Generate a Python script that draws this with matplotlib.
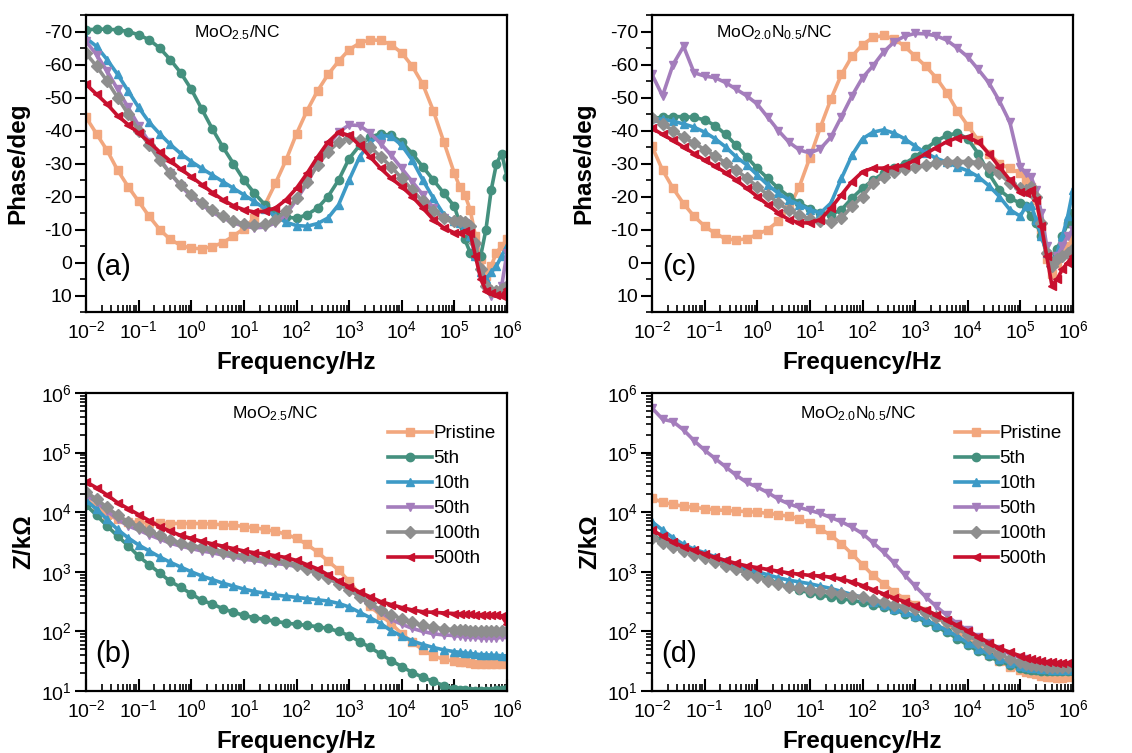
import numpy as np
import matplotlib
matplotlib.use("Agg")
import matplotlib.pyplot as plt
from matplotlib.ticker import LogLocator, MultipleLocator, NullFormatter

plt.rcParams['font.family'] = ['Liberation Sans', 'DejaVu Sans']
plt.rcParams['mathtext.fontset'] = 'custom'
plt.rcParams['mathtext.rm'] = 'Liberation Sans'
plt.rcParams['mathtext.it'] = 'Liberation Sans:italic'
plt.rcParams['mathtext.bf'] = 'Liberation Sans:bold'
plt.rcParams['axes.unicode_minus'] = False

# log10 of frequency (Hz) at which values were read
log_f = [-2.0, -1.8, -1.6, -1.4, -1.2, -1.0, -0.8, -0.6, -0.4, -0.2,
         0.0, 0.2, 0.4, 0.6, 0.8, 1.0, 1.2, 1.4, 1.6, 1.8,
         2.0, 2.2, 2.4, 2.6, 2.8, 3.0, 3.2, 3.4, 3.6, 3.8,
         4.0, 4.2, 4.4, 4.6, 4.8, 5.0, 5.1, 5.2, 5.3, 5.4,
         5.5, 5.6, 5.7, 5.8, 5.9, 6.0]

labels = ['Pristine', '5th', '10th', '50th', '100th', '500th']
colors = ['#F2A77E', '#44907E', '#3D9AC6', '#A47DBC', '#8E8E8E', '#C8102E']
markers = ['s', 'o', '^', 'v', 'D', '<']

# ---- (a) phase, MoO2.5/NC ----
phase_a_pristine = [-44, -39, -34, -28, -23, -18.5, -14, -10, -7, -5.2,
                    -4.3, -4.2, -4.8, -6, -8, -10.3, -13.5, -17.5, -24, -31,
                    -39, -46, -52, -57, -61, -64.5, -66.5, -67.5, -67.3, -66,
                    -63.5, -59.5, -54, -46, -36.5, -27, -23, -20.5, -16, -8,
                    -1, 4, 1, -3, -5, -7]
phase_a_5th = [-70.5, -70.7, -70.7, -70.5, -70, -69, -67.5, -65, -61.5, -57.5,
               -52.5, -46.5, -40.5, -35, -30, -25, -21, -17.5, -15, -13.8,
               -13.4, -14.5, -16.5, -20, -25, -31.5, -35.5, -38, -39, -38.5,
               -36.5, -33, -29, -25, -21, -17, -12, -7, -3, -2,
               -2, -10, -22, -30, -33, -26]
phase_a_10th = [-68, -65.5, -61.5, -57, -52, -47, -42.5, -39, -35.8, -33,
                -30.6, -28.5, -26.5, -24.5, -22.5, -20.5, -18.5, -16.3, -14, -12.2,
                -11.2, -11, -11.8, -13.5, -17.5, -25, -32, -36.5, -38.5, -38.2,
                -35.5, -31, -25, -19.5, -14.5, -12.5, -12, -11.5, -8, -2,
                3, 5, 3, 1, -2, -5]
phase_a_50th = [-67, -63, -58, -52.5, -47, -41.5, -36.5, -31.5, -27, -23.2,
                -20, -17.5, -15.2, -13.5, -12, -11, -10.5, -10.7, -12, -14.5,
                -19, -24, -30, -35.5, -39.5, -41.7, -41.5, -39.2, -36, -32.5,
                -28.5, -24.5, -20.5, -16.5, -13.5, -12.3, -12.2, -12, -10, -4,
                3, 8, 10, 9, 7, -3]
phase_a_100th = [-63.4, -59.5, -55, -50, -45, -40, -35.5, -31, -27, -23.5,
                 -20.5, -18, -15.8, -14, -12.6, -11.7, -11.4, -11.6, -13, -15.5,
                 -19.5, -24.5, -29.5, -33.5, -36.5, -37.7, -37, -35, -32, -29,
                 -25.5, -22, -18.5, -15.5, -13.5, -12.5, -12.5, -12.4, -11, -6,
                 2, 7, 8.5, 8.5, 8, 7]
phase_a_500th = [-54, -51, -48, -44.5, -41.8, -39.2, -36.5, -33.5, -30.8, -28.3,
                 -26, -23.6, -21.2, -19, -17.2, -16, -15.3, -15.5, -16.5, -19,
                 -22.5, -27, -32, -36.5, -39.5, -38.5, -35.5, -32, -28.5, -25.5,
                 -23, -20, -16.5, -13, -10.5, -9, -9, -9.5, -9, -2,
                 5, 8.5, 9.3, 9.8, 10, 8]

# ---- (c) phase, MoO2.0N0.5/NC ----
phase_c_pristine = [-35.2, -28, -22.5, -17.8, -14, -11, -8.8, -7.2, -6.8, -7.2,
                    -8.5, -10, -12.5, -16.5, -23, -31.8, -41, -49.5, -57, -62.5,
                    -66, -68.2, -68.8, -67.8, -65.5, -62.5, -59.5, -56, -51.5, -46,
                    -41.5, -37, -33, -30, -28.5, -27, -25, -23, -19, -10,
                    -1, 3.5, 0, -3, -5, -7]
phase_c_5th = [-43.7, -44, -44.2, -44.2, -44, -43.2, -41.5, -38.8, -35.5, -32,
               -28.5, -25.5, -22.5, -20, -18, -16.3, -15, -14.5, -16, -19.5,
               -22.5, -25, -27, -28.5, -30, -32, -34.5, -36.8, -38.5, -39.2,
               -37.5, -33, -27, -22, -19.5, -18, -17, -14, -12, -8,
               -3, 0, -4, -8, -12, -15]
phase_c_10th = [-43.7, -43.4, -42.8, -42, -41, -39.5, -37.5, -35, -32, -29.6,
                -26.5, -23.5, -21, -19, -17.5, -16, -15, -18, -25.5, -32.5,
                -37.5, -39.5, -40.2, -39.2, -37.5, -35.3, -33.2, -31.6, -30.4, -29,
                -27.8, -26, -23.3, -20, -16, -14, -17, -17.5, -13, -8,
                -3, 0, -3, -8, -14, -22]
phase_c_50th = [-57, -50.5, -60, -65.5, -57.5, -56.5, -56, -54.5, -52.5, -50.5,
                -48, -44, -40, -36.5, -34.1, -33.2, -34.5, -38, -44.2, -50.5,
                -56, -59.6, -63.8, -66.8, -68.6, -69.4, -69.3, -68.7, -67.4, -65,
                -62.3, -58.5, -54.5, -49, -42.5, -29, -27, -26, -22, -15,
                -5, 1, -2, -5, -8, -10]
phase_c_100th = [-43.7, -42, -40, -38, -36.2, -34.2, -32.3, -30.2, -28, -25.6,
                 -23, -20.5, -18, -15.8, -14.4, -13.2, -12.6, -12.4, -13.5, -17,
                 -20, -24, -26, -27.5, -28.4, -29, -29.6, -30.2, -30.6, -30.6,
                 -30.6, -30.3, -29, -27, -24, -22.5, -22, -23, -20, -12,
                 -3, 1, -1, -2, -3, -4]
phase_c_500th = [-40.7, -38.8, -37, -35, -33, -31, -29.2, -27.2, -25, -22.5,
                 -20, -17.5, -15, -13, -12, -12, -13, -16.5, -20.5, -24.5,
                 -27.5, -28.6, -28.6, -28.8, -29.5, -31, -33, -34.8, -36.6, -37.8,
                 -38, -36.5, -33, -29, -25, -21.5, -21, -22, -19, -11,
                 -2, 7, 5, 2, 0, -2]

# ---- (b) log10 |Z| (kOhm), MoO2.5/NC ----
logz_b_pristine = [4.22, 4.08, 3.96, 3.88, 3.84, 3.83, 3.82, 3.82, 3.81, 3.81,
                   3.81, 3.81, 3.80, 3.79, 3.78, 3.76, 3.74, 3.71, 3.68, 3.63,
                   3.56, 3.46, 3.33, 3.18, 3.03, 2.84, 2.62, 2.42, 2.27, 2.13,
                   1.96, 1.82, 1.69, 1.59, 1.53, 1.50, 1.49, 1.48, 1.47, 1.46,
                   1.45, 1.45, 1.45, 1.45, 1.46, 1.50]
logz_b_5th = [4.12, 3.95, 3.77, 3.60, 3.44, 3.26, 3.12, 2.98, 2.84, 2.74,
              2.63, 2.52, 2.46, 2.38, 2.32, 2.27, 2.23, 2.20, 2.17, 2.14,
              2.12, 2.10, 2.08, 2.05, 2.00, 1.93, 1.83, 1.73, 1.62, 1.51,
              1.41, 1.31, 1.23, 1.16, 1.09, 1.04, 1.02, 1.01, 1.005, 1.0,
              1.0, 1.0, 1.0, 1.01, 1.02, 1.04]
logz_b_10th = [4.20, 4.05, 3.88, 3.71, 3.57, 3.45, 3.35, 3.25, 3.16, 3.08,
               3.00, 2.93, 2.87, 2.81, 2.76, 2.71, 2.67, 2.64, 2.61, 2.59,
               2.57, 2.55, 2.53, 2.51, 2.47, 2.41, 2.32, 2.23, 2.13, 2.01,
               1.92, 1.84, 1.78, 1.73, 1.69, 1.66, 1.65, 1.64, 1.63, 1.62,
               1.61, 1.61, 1.60, 1.60, 1.59, 1.59]
logz_b_50th = [4.29, 4.17, 4.02, 3.88, 3.77, 3.70, 3.62, 3.55, 3.48, 3.43,
               3.39, 3.35, 3.32, 3.28, 3.25, 3.21, 3.19, 3.16, 3.14, 3.12,
               3.09, 3.03, 2.97, 2.89, 2.80, 2.70, 2.58, 2.44, 2.32, 2.20,
               2.12, 2.05, 2.00, 1.96, 1.94, 1.93, 1.92, 1.91, 1.90, 1.90,
               1.89, 1.89, 1.89, 1.89, 1.90, 1.90]
logz_b_100th = [4.34, 4.22, 4.08, 3.95, 3.84, 3.76, 3.68, 3.61, 3.54, 3.48,
                3.44, 3.41, 3.38, 3.34, 3.30, 3.27, 3.24, 3.22, 3.20, 3.16,
                3.12, 3.04, 2.97, 2.90, 2.80, 2.70, 2.58, 2.47, 2.36, 2.28,
                2.21, 2.15, 2.10, 2.07, 2.04, 2.03, 2.02, 2.02, 2.01, 2.01,
                2.00, 2.00, 2.00, 2.00, 2.00, 2.01]
logz_b_500th = [4.51, 4.41, 4.29, 4.16, 4.06, 3.96, 3.86, 3.76, 3.68, 3.61,
                3.56, 3.51, 3.47, 3.43, 3.39, 3.35, 3.32, 3.30, 3.27, 3.24,
                3.19, 3.12, 3.05, 2.95, 2.84, 2.75, 2.66, 2.58, 2.50, 2.45,
                2.40, 2.36, 2.33, 2.32, 2.31, 2.30, 2.29, 2.29, 2.29, 2.28,
                2.28, 2.28, 2.27, 2.27, 2.26, 2.12]

# ---- (d) log10 |Z| (kOhm), MoO2.0N0.5/NC ----
logz_d_pristine = [4.23, 4.17, 4.13, 4.10, 4.08, 4.06, 4.04, 4.03, 4.02, 4.01,
                   4.00, 3.98, 3.96, 3.93, 3.89, 3.82, 3.72, 3.61, 3.47, 3.30,
                   3.12, 2.94, 2.80, 2.66, 2.55, 2.45, 2.35, 2.25, 2.13, 2.00,
                   1.87, 1.74, 1.61, 1.50, 1.41, 1.35, 1.32, 1.30, 1.28, 1.26,
                   1.24, 1.23, 1.22, 1.22, 1.23, 1.27]
logz_d_5th = [3.61, 3.53, 3.46, 3.39, 3.33, 3.27, 3.20, 3.13, 3.06, 3.00,
              2.94, 2.88, 2.81, 2.74, 2.69, 2.65, 2.61, 2.58, 2.55, 2.52,
              2.49, 2.45, 2.41, 2.36, 2.30, 2.24, 2.16, 2.08, 1.99, 1.88,
              1.77, 1.67, 1.58, 1.50, 1.44, 1.39, 1.37, 1.36, 1.35, 1.34,
              1.33, 1.33, 1.33, 1.33, 1.33, 1.34]
logz_d_10th = [3.84, 3.70, 3.57, 3.46, 3.38, 3.32, 3.25, 3.18, 3.11, 3.05,
               3.00, 2.95, 2.90, 2.86, 2.83, 2.80, 2.76, 2.72, 2.67, 2.62,
               2.57, 2.50, 2.44, 2.38, 2.32, 2.26, 2.19, 2.11, 2.02, 1.92,
               1.81, 1.71, 1.62, 1.54, 1.47, 1.42, 1.40, 1.39, 1.38, 1.37,
               1.37, 1.36, 1.36, 1.36, 1.36, 1.37]
logz_d_50th = [5.75, 5.56, 5.52, 5.38, 5.20, 5.04, 4.90, 4.76, 4.62, 4.50,
               4.42, 4.33, 4.22, 4.14, 4.08, 4.03, 3.98, 3.91, 3.84, 3.75,
               3.64, 3.49, 3.33, 3.15, 2.95, 2.76, 2.58, 2.42, 2.27, 2.13,
               2.02, 1.91, 1.80, 1.70, 1.62, 1.56, 1.53, 1.51, 1.49, 1.47,
               1.46, 1.45, 1.44, 1.44, 1.44, 1.45]
logz_d_100th = [3.56, 3.48, 3.41, 3.35, 3.29, 3.23, 3.17, 3.10, 3.04, 2.97,
                2.91, 2.85, 2.79, 2.75, 2.72, 2.70, 2.68, 2.66, 2.63, 2.60,
                2.58, 2.53, 2.49, 2.45, 2.41, 2.37, 2.31, 2.24, 2.15, 2.05,
                1.94, 1.83, 1.72, 1.62, 1.54, 1.48, 1.46, 1.44, 1.43, 1.42,
                1.41, 1.41, 1.41, 1.41, 1.41, 1.42]
logz_d_500th = [3.70, 3.60, 3.50, 3.42, 3.36, 3.30, 3.24, 3.19, 3.14, 3.10,
                3.07, 3.04, 3.01, 2.98, 2.96, 2.94, 2.93, 2.91, 2.88, 2.83,
                2.77, 2.70, 2.63, 2.56, 2.50, 2.43, 2.36, 2.28, 2.19, 2.10,
                2.01, 1.91, 1.81, 1.72, 1.65, 1.59, 1.56, 1.54, 1.52, 1.50,
                1.49, 1.48, 1.47, 1.47, 1.47, 1.49]

freq = 10.0 ** np.array(log_f)

phase_a = [phase_a_pristine, phase_a_5th, phase_a_10th, phase_a_50th, phase_a_100th, phase_a_500th]
phase_c = [phase_c_pristine, phase_c_5th, phase_c_10th, phase_c_50th, phase_c_100th, phase_c_500th]
logz_b = [logz_b_pristine, logz_b_5th, logz_b_10th, logz_b_50th, logz_b_100th, logz_b_500th]
logz_d = [logz_d_pristine, logz_d_5th, logz_d_10th, logz_d_50th, logz_d_100th, logz_d_500th]

fig = plt.figure(figsize=(11.32, 7.53), dpi=100)
W, H = 1132, 753
ax_w, ax_h = 421 / W, 297 / H
ax_a = fig.add_axes([86 / W, 1 - 312 / H, ax_w, ax_h])
ax_c = fig.add_axes([652 / W, 1 - 312 / H, ax_w, ax_h])
ax_b = fig.add_axes([86 / W, 1 - 691 / H, ax_w, 298 / H])
ax_d = fig.add_axes([652 / W, 1 - 691 / H, ax_w, 298 / H])


def style_axis(ax):
    ax.set_xscale('log')
    ax.set_xlim(1e-2, 1e6)
    ax.xaxis.set_major_locator(LogLocator(base=10, numticks=20))
    ax.xaxis.set_minor_locator(LogLocator(base=10, subs=np.arange(2, 10), numticks=100))
    ax.xaxis.set_minor_formatter(NullFormatter())
    for s in ax.spines.values():
        s.set_linewidth(1.6)
    ax.tick_params(axis='x', which='major', direction='in', length=9, width=1.5,
                   labelsize=14, pad=6)
    ax.tick_params(axis='x', which='minor', direction='in', length=5, width=1.2)
    ax.tick_params(axis='y', which='major', direction='out', length=8, width=1.5,
                   labelsize=14, pad=2)
    ax.tick_params(axis='y', which='minor', direction='out', length=4.5, width=1.2)
    ax.set_xlabel('Frequency/Hz', fontsize=17.5, fontweight='bold', labelpad=6)


def phase_panel(ax, data, title, title_x, tag):
    for y, lab, c, m in zip(data, labels, colors, markers):
        ax.plot(freq, y, color=c, marker=m, markersize=6, linewidth=2.6, label=lab)
    style_axis(ax)
    ax.set_ylim(15, -75)
    ax.yaxis.set_major_locator(MultipleLocator(10))
    ax.yaxis.set_minor_locator(MultipleLocator(5))
    ax.set_ylabel('Phase/deg', fontsize=17.5, fontweight='bold')
    ax.yaxis.set_label_coords(-0.135, 0.5)
    ax.text(title_x, 0.94, title, transform=ax.transAxes, fontsize=12.5,
            ha='center', va='center')
    ax.text(0.065, 0.15, tag, transform=ax.transAxes, fontsize=21,
            ha='center', va='center')


def z_panel(ax, data, title, title_x, tag):
    for y, lab, c, m in zip(data, labels, colors, markers):
        ax.plot(freq, 10.0 ** np.array(y), color=c, marker=m, markersize=6,
                linewidth=2.6, label=lab)
    style_axis(ax)
    ax.set_yscale('log')
    ax.set_ylim(10, 1e6)
    ax.yaxis.set_major_locator(LogLocator(base=10, numticks=20))
    ax.yaxis.set_minor_locator(LogLocator(base=10, subs=np.arange(2, 10), numticks=100))
    ax.yaxis.set_minor_formatter(NullFormatter())
    ax.set_ylabel('Z/k\u03a9', fontsize=17.5, fontweight='bold')
    ax.yaxis.set_label_coords(-0.12, 0.5)
    ax.text(title_x, 0.93, title, transform=ax.transAxes, fontsize=12.5,
            ha='center', va='center')
    ax.text(0.065, 0.125, tag, transform=ax.transAxes, fontsize=21,
            ha='center', va='center')
    ax.legend(loc='upper right', frameon=False, fontsize=13.5, handlelength=2.3,
              handletextpad=0.1, labelspacing=0.42, borderaxespad=0.2,
              bbox_to_anchor=(1.0, 0.93))


phase_panel(ax_a, phase_a, 'MoO$_{2.5}$/NC', 0.36, '(a)')
phase_panel(ax_c, phase_c, 'MoO$_{2.0}$N$_{0.5}$/NC', 0.29, '(c)')
z_panel(ax_b, logz_b, 'MoO$_{2.5}$/NC', 0.45, '(b)')
z_panel(ax_d, logz_d, 'MoO$_{2.0}$N$_{0.5}$/NC', 0.49, '(d)')

fig.savefig('out.png', dpi=100)
